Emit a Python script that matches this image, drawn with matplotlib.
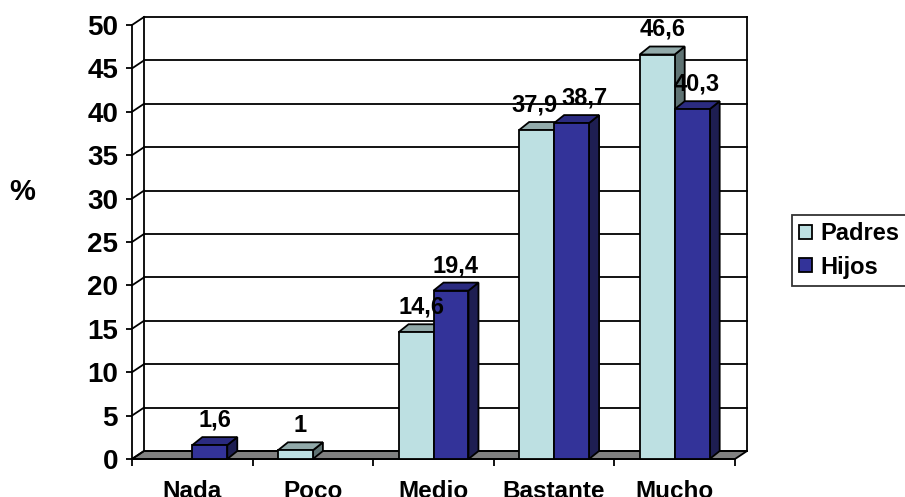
import matplotlib
matplotlib.use("Agg")
import matplotlib.pyplot as plt
from matplotlib.patches import Polygon, Rectangle, Patch
from matplotlib.lines import Line2D
import numpy as np

plt.rcParams['font.family'] = ['Liberation Sans', 'DejaVu Sans']
plt.rcParams['font.weight'] = 'bold'

categories = ["Nada", "Poco", "Medio", "Bastante", "Mucho"]
padres = [np.nan, 1, 14.6, 37.9, 46.6]
hijos = [1.6, np.nan, 19.4, 38.7, 40.3]
series_names = ["Padres", "Hijos"]
y_ticks = list(range(0, 51, 5))

# colours: front, top, side
padres_cols = ("#bde0e2", "#92aaaa", "#5f7373")
hijos_cols = ("#333399", "#2b2b80", "#1e1e52")
floor_col = "#808080"

W, H, DPI = 905, 497, 100
fig = plt.figure(figsize=(W / DPI, H / DPI), dpi=DPI)

# front plane of the plot box in pixels
left_px, right_px, top_px, bottom_px = 132, 735, 25, 459
ax = fig.add_axes([left_px / W, 1 - bottom_px / H,
                   (right_px - left_px) / W, (bottom_px - top_px) / H])
ax.set_xlim(-0.5, len(categories) - 0.5)
ax.set_ylim(0, 50)

ppx = (right_px - left_px) / len(categories)   # pixels per x unit
ppy = (bottom_px - top_px) / 50.0              # pixels per y unit
# depth offsets (pixels -> data units)
wall_dx, wall_dy = 12 / ppx, 8 / ppy
bar_dx, bar_dy = 10 / ppx, 8 / ppy

lw = 1.3
x0, x1 = -0.5, len(categories) - 0.5

# floor
ax.add_patch(Polygon([(x0, 0), (x1, 0), (x1 + wall_dx, wall_dy), (x0 + wall_dx, wall_dy)],
                     closed=True, facecolor=floor_col, edgecolor="black", lw=lw,
                     clip_on=False, zorder=1))
# back wall gridlines and side wall diagonals
for v in y_ticks:
    ax.add_line(Line2D([x0 + wall_dx, x1 + wall_dx], [v + wall_dy, v + wall_dy],
                       color="black", lw=lw, clip_on=False, zorder=1))
    ax.add_line(Line2D([x0, x0 + wall_dx], [v, v + wall_dy],
                       color="black", lw=lw, clip_on=False, zorder=1))
# back wall verticals
ax.add_line(Line2D([x0 + wall_dx, x0 + wall_dx], [wall_dy, 50 + wall_dy],
                   color="black", lw=lw, clip_on=False, zorder=1))
ax.add_line(Line2D([x1 + wall_dx, x1 + wall_dx], [wall_dy, 50 + wall_dy],
                   color="black", lw=lw, clip_on=False, zorder=1))

bar_w = 0.29


def draw_bar(xl, v, cols, z):
    front, top, side = cols
    xr = xl + bar_w
    ax.add_patch(Polygon([(xr, 0), (xr + bar_dx, bar_dy), (xr + bar_dx, v + bar_dy), (xr, v)],
                         closed=True, facecolor=side, edgecolor="black", lw=lw,
                         clip_on=False, zorder=z))
    ax.add_patch(Polygon([(xl, v), (xr, v), (xr + bar_dx, v + bar_dy), (xl + bar_dx, v + bar_dy)],
                         closed=True, facecolor=top, edgecolor="black", lw=lw,
                         clip_on=False, zorder=z))
    ax.add_patch(Rectangle((xl, 0), bar_w, v, facecolor=front, edgecolor="black", lw=lw,
                           clip_on=False, zorder=z))
    label = f"{v:g}".replace(".", ",")
    return ax.annotate(label, (xl + bar_w / 2 + bar_dx / 2, v + bar_dy), xytext=(0, 4),
                       textcoords="offset points", ha="center", va="bottom",
                       fontsize=17, fontweight="bold", zorder=20, annotation_clip=False)


z = 3
labels_by_cat = []
for i in range(len(categories)):
    row = []
    for vals, cols, off in ((padres, padres_cols, -bar_w), (hijos, hijos_cols, 0.0)):
        v = vals[i]
        if np.isnan(v):
            continue
        row.append(draw_bar(i + off, v, cols, z))
        z += 1
    labels_by_cat.append(row)

# axes styling
for s in ("top", "right"):
    ax.spines[s].set_visible(False)
ax.spines["left"].set_linewidth(lw)
ax.spines["bottom"].set_linewidth(lw)
ax.spines["left"].set_zorder(2)
ax.patch.set_visible(False)

ax.set_yticks(y_ticks)
ax.tick_params(axis="y", direction="out", length=4, width=lw, labelsize=20, pad=6)
for t in ax.get_yticklabels():
    t.set_fontweight("bold")

ax.set_xticks(np.arange(len(categories) + 1) - 0.5)
ax.set_xticklabels([])
ax.tick_params(axis="x", which="major", direction="out", length=5, width=lw)
ax.set_xticks(np.arange(len(categories)), minor=True)
ax.set_xticklabels(categories, minor=True)
ax.tick_params(axis="x", which="minor", length=0, labelsize=17.5, pad=15)
for t in ax.get_xticklabels(minor=True):
    t.set_fontweight("bold")

fig.text(22 / W, 1 - 192 / H, "%", ha="center", va="center", fontsize=21, fontweight="bold")

handles = [Patch(facecolor=padres_cols[0], edgecolor="black", lw=lw),
           Patch(facecolor=hijos_cols[0], edgecolor="black", lw=lw)]
leg = fig.legend(handles, series_names, loc="upper left",
                 bbox_to_anchor=(792 / W, 1 - 215 / H), bbox_transform=fig.transFigure,
                 prop={"size": 17, "weight": "bold"}, frameon=True, fancybox=False,
                 handlelength=0.55, handleheight=0.55, handletextpad=0.35,
                 borderpad=0.3, labelspacing=0.45, borderaxespad=0)
leg.get_frame().set_edgecolor("black")
leg.get_frame().set_linewidth(lw)

# push apart value labels that collide within a category
fig.canvas.draw()
renderer = fig.canvas.get_renderer()
for row in labels_by_cat:
    if len(row) != 2:
        continue
    a, b = row
    ea, eb = a.get_window_extent(renderer), b.get_window_extent(renderer)
    overlap = ea.x1 - eb.x0 + 4
    if overlap > 0 and ea.y1 > eb.y0 and eb.y1 > ea.y0:
        shift_pt = overlap / 2 * 72 / DPI
        a.xyann = (a.xyann[0] - shift_pt, a.xyann[1])
        b.xyann = (b.xyann[0] + shift_pt, b.xyann[1])

fig.savefig("out.png", dpi=DPI)
